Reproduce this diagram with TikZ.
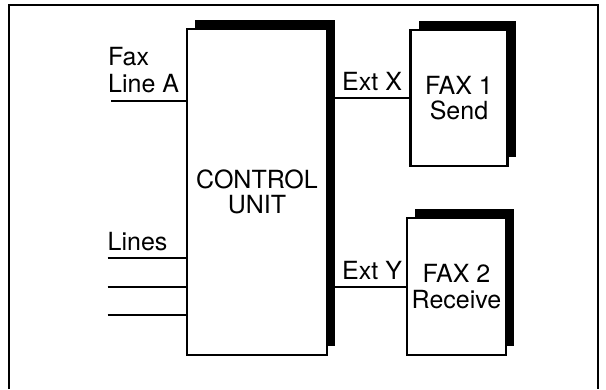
\documentclass[tikz,border=0pt]{standalone}
\usepackage{fontspec}
\setmainfont{TeX Gyre Heros}
\usetikzlibrary{shadows}
\begin{document}
\begin{tikzpicture}
  [x=1pt, y=-1pt,
   unit/.style={rectangle, draw=black, fill=white, line width=2.4pt, inner sep=0pt, align=center,
                font=\fontsize{25}{25.5}\selectfont,
                general shadow={fill=black, shadow xshift=8pt, shadow yshift=9pt}},
   lbl/.style={inner sep=0pt, align=left, font=\fontsize{25}{27}\selectfont},
   wire/.style={line width=2pt, draw=black},
   frame/.style={line width=2.8pt, draw=black}]

  \useasboundingbox (0,0) rectangle (606,389);

  % Marco
  \draw[frame] (9,389) |- (598,5) -- (598,389);

  % Bloques
  \node[unit, minimum width=140pt, minimum height=326pt] (cu) at (257,192) {CONTROL\\UNIT};
  \node[unit, minimum width=97pt, minimum height=136pt] (fax1) at (459,98) {FAX 1\\Send};
  \node[unit, minimum width=99pt, minimum height=137pt] (fax2) at (456.5,286.5) {FAX 2\\Receive};

  % Etiquetas
  \node[lbl, anchor=base west] (faxA) at (108,92) {Fax\\Line A};
  \node[lbl, anchor=base west] (lines) at (107.5,250) {Lines};
  \node[lbl, anchor=base west] (extX) at (342,90) {Ext X};
  \node[lbl, anchor=base west] (extY) at (342,279) {Ext Y};

  % Lineas de entrada
  \coordinate (la) at (111,101);
  \draw[wire] (la) -- (la -| cu.west);
  \foreach \name/\y in {l1/258, l2/287, l3/315} {
    \coordinate (\name) at (107.5,\y);
    \draw[wire] (\name) -- (\name -| cu.west);
  }

  % Extensiones
  \draw[wire] (cu.east |- fax1.west) -- (fax1.west);
  \draw[wire] (cu.east |- fax2.west) -- (fax2.west);
\end{tikzpicture}
\end{document}
